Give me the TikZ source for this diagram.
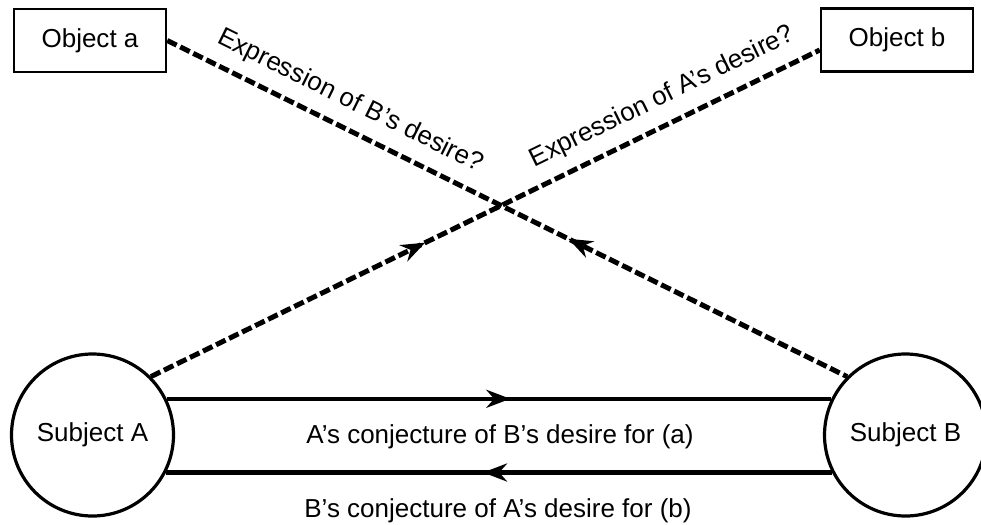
\documentclass[tikz,border=0pt]{standalone}
\usepackage{fontspec}
\setmainfont{Liberation Sans}
\usetikzlibrary{arrows.meta,decorations.markings,calc}

\begin{document}
\begin{tikzpicture}[x=1pt,y=-1pt,
  every node/.style={font=\fontsize{26}{31}\selectfont},
  obj/.style={draw,line width=2.5pt,minimum width=152pt,minimum height=63pt,inner sep=0pt},
  subj/.style={draw,circle,line width=3.2pt,minimum size=162pt,inner sep=0pt},
  conj/.style={line width=4.5pt},
  expr/.style={line width=5pt,dash pattern=on 10.5pt off 4pt},
  fwdarr/.style={postaction={decorate},decoration={markings,
    mark=at position #1 with {\arrow{Stealth[length=24pt,width=18pt]}}}},
  bwdarr/.style={postaction={decorate},decoration={markings,
    mark=at position #1 with {\arrowreversed{Stealth[length=24pt,width=18pt]}}}},
  lbl/.style={sloped,above,inner sep=12pt}]
  \useasboundingbox (0,0) rectangle (981,524);
  % objects and subjects
  \node[obj] (objA) at (90,40.5) {Object a};
  \node[obj] (objB) at (897,40) {Object b};
  \node[subj] (subjA) at (92.5,435) {Subject A};
  \node[subj] (subjB) at (905.5,435) {Subject B};
  \coordinate (objBin) at ($(objB.west)+(0,10)$);
  % expressions (dashed)
  \draw[expr,bwdarr=0.59] (objA.east) -- (subjB.135)
    node[lbl,pos=0.252] (exprB) {Expression of B’s desire?};
  \draw[expr,fwdarr=0.41] (subjA.45) -- (objBin)
    node[lbl,pos=0.782] (exprA) {Expression of A’s desire?};
  % conjectures
  \draw[conj,fwdarr=0.517] (subjA.26) -- (subjB.154);
  \draw[conj,fwdarr=0.524] (subjB.207) -- (subjA.-27);
  \node[anchor=base] (conjA) at (500,443) {A’s conjecture of B’s desire for (a)};
  \node[anchor=base] (conjB) at (498,517) {B’s conjecture of A’s desire for (b)};
\end{tikzpicture}
\end{document}
